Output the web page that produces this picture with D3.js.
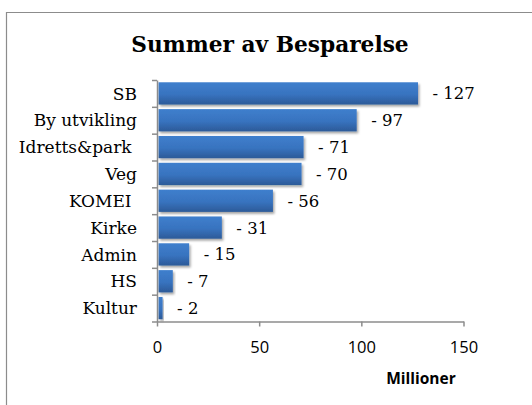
<!DOCTYPE html>
<html>
<head>
<meta charset="utf-8">
<script src="https://cdn.jsdelivr.net/npm/d3@7"></script>
<style>
  body { margin: 0; background: #fff; }
  svg { display: block; }
</style>
</head>
<body>
<div id="chart"></div>
<script>
// data (millioner)
var categories = ["SB", "By utvikling", "Idretts&park ", "Veg", "KOMEI ", "Kirke", "Admin", "HS", "Kultur"];
var values = [127, 97, 71, 70, 56, 31, 15, 7, 2];
var valueLabels = ["- 127", "- 97", "- 71", "- 70", "- 56", "- 31", "- 15", "- 7", "- 2"];
var xTicks = [0, 50, 100, 150];

var W = 532, H = 405;
var margin = {top: 80, left: 157, right: 67, bottom: 84};

var svg = d3.select("#chart").append("svg")
  .attr("width", W)
  .attr("height", H);

// outer frame of the chart
svg.append("path")
  .attr("d", "M6.5," + H + " V12.5 H" + W)
  .attr("fill", "none")
  .attr("stroke", "#8c8c8c")
  .attr("stroke-width", 1.2);

var defs = svg.append("defs");
var grad = defs.append("linearGradient")
  .attr("id", "barGrad")
  .attr("x1", 0).attr("y1", 0).attr("x2", 0).attr("y2", 1);
grad.append("stop").attr("offset", "0%").attr("stop-color", "#3f7fcd");
grad.append("stop").attr("offset", "55%").attr("stop-color", "#3873bf");
grad.append("stop").attr("offset", "100%").attr("stop-color", "#2c5a98");

var shadow = defs.append("filter").attr("id", "shadow")
  .attr("x", "-10%").attr("y", "-20%").attr("width", "130%").attr("height", "160%");
shadow.append("feDropShadow")
  .attr("dx", 1.5).attr("dy", 2).attr("stdDeviation", 1.2)
  .attr("flood-color", "#000").attr("flood-opacity", 0.35);

var x = d3.scaleLinear()
  .domain([0, 150])
  .range([margin.left, W - margin.right + 0.5 - 2]);

var y = d3.scaleBand()
  .domain(categories)
  .range([margin.top, H - margin.bottom + 0.5])
  .paddingInner(0.17)
  .paddingOuter(0.085);

// title
svg.append("text")
  .attr("x", 270)
  .attr("y", 52)
  .attr("text-anchor", "middle")
  .style("font-family", "'DejaVu Serif', serif")
  .style("font-weight", "bold")
  .style("font-size", "21.7px")
  .text("Summer av Besparelse");

// bars
svg.selectAll("rect.bar")
  .data(values)
  .enter()
  .append("rect")
    .attr("class", "bar")
    .attr("x", x(0) + 1.5)
    .attr("y", function(d, i) { return y(categories[i]); })
    .attr("width", function(d) { return Math.max(0, x(d) - x(0)); })
    .attr("height", y.bandwidth())
    .attr("fill", "url(#barGrad)")
    .attr("filter", "url(#shadow)");

// value labels
svg.selectAll("text.val")
  .data(values)
  .enter()
  .append("text")
    .attr("class", "val")
    .attr("x", function(d) { return x(d) + 16; })
    .attr("y", function(d, i) { return y(categories[i]) + y.bandwidth() / 2; })
    .attr("dy", "0.36em")
    .style("font-family", "'DejaVu Serif', serif")
    .style("font-size", "16.5px")
    .text(function(d, i) { return valueLabels[i]; });

// y axis
var yAxisScale = d3.scaleLinear().domain([0, categories.length])
  .range([margin.top, H - margin.bottom + 0.5]);
var yAxis = svg.append("g")
  .attr("transform", "translate(" + x(0) + ",0)")
  .call(d3.axisLeft(yAxisScale).tickValues(d3.range(0, categories.length + 1)).tickSize(5).tickSizeOuter(0).tickFormat(""));
yAxis.selectAll("path, line").attr("stroke", "#8c8c8c").attr("stroke-width", 1.5);

svg.selectAll("text.cat")
  .data(categories)
  .enter()
  .append("text")
    .attr("class", "cat")
    .attr("x", 137)
    .attr("y", function(d) { return y(d) + y.bandwidth() / 2; })
    .attr("dy", "0.36em")
    .attr("text-anchor", "end")
    .style("white-space", "pre")
    .style("font-family", "'DejaVu Serif', serif")
    .style("font-size", "17px")
    .text(function(d) { return d; });

// x axis
var xAxis = svg.append("g")
  .attr("transform", "translate(0," + (H - margin.bottom + 0.5) + ")")
  .call(d3.axisBottom(x).tickValues(xTicks).tickSize(5).tickSizeOuter(0).tickPadding(15));
xAxis.selectAll("path, line").attr("stroke", "#8c8c8c").attr("stroke-width", 1.5);
xAxis.selectAll("text")
  .style("font-family", "'Open Sans', sans-serif")
  .style("font-size", "16.5px")
  .attr("fill", "#000");

svg.append("text")
  .attr("x", 421)
  .attr("y", 384)
  .attr("text-anchor", "middle")
  .style("font-family", "'Open Sans', sans-serif")
  .style("font-weight", "bold")
  .style("font-size", "15.5px")
  .text("Millioner");
</script>
</body>
</html>
